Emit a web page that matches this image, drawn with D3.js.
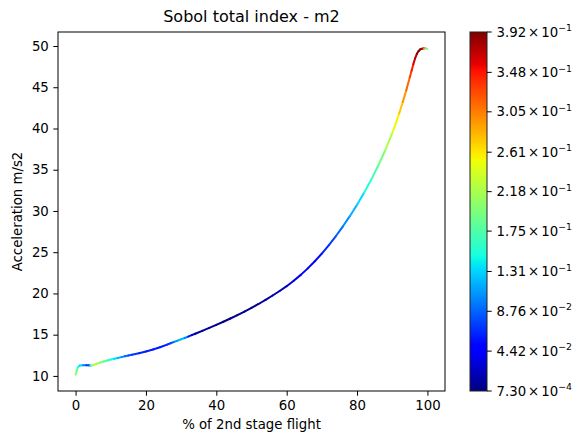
<!DOCTYPE html>
<html>
<head>
<meta charset="utf-8">
<script src="https://cdn.jsdelivr.net/npm/d3@7"></script>
<style>
	body { margin: 0; background: #fff; }
	svg text { font-family: "DejaVu Sans", sans-serif; fill: #000; }
</style>
</head>
<body>
<div id="chart"></div>
<script>
	'use strict';

	// % of 2nd stage flight
	var flightPct = [0, 0.3, 0.65, 1.2, 2.1, 3.0, 3.6, 4.2, 4.6, 5.2,
		6, 7, 8, 9, 10, 11, 12, 13, 14, 15, 16,
		18, 20, 22, 24, 26,
		27, 28, 29, 30, 31, 32, 33, 34,
		36, 38, 40, 42, 44, 46, 48, 50, 52, 54, 56, 58, 60, 62, 64, 66, 68, 70, 72, 74, 76, 78, 80, 82, 84, 86, 88, 90,
		91, 92, 93, 94, 95,
		95.5, 96, 96.5, 97, 97.5, 98, 98.5, 99, 99.5, 100];

	// acceleration, m/s2
	var accel = [10.15, 10.6, 11.05, 11.25, 11.3, 11.3, 11.28, 11.25, 11.27, 11.35,
		11.47, 11.62, 11.75, 11.87, 11.98, 12.08, 12.18, 12.28, 12.38, 12.47, 12.56,
		12.76, 12.97, 13.2, 13.48, 13.8,
		13.96, 14.12, 14.28, 14.44, 14.6, 14.77, 14.94, 15.11,
		15.46, 15.82, 16.19, 16.57, 16.96, 17.37, 17.8, 18.25, 18.72, 19.22, 19.75, 20.3, 20.88, 21.53, 22.25, 23.04,
		23.9, 24.84, 25.86, 26.96, 28.14, 29.4, 30.75, 32.2, 33.77, 35.48, 37.36, 39.44,
		40.6, 41.85, 43.2, 44.65, 46.2,
		47.0, 47.8, 48.5, 49.05, 49.4, 49.6, 49.68, 49.72, 49.7, 49.66];

	// Sobol total index of m2 along the flight
	var sobolIdx = [0.21, 0.2, 0.17, 0.14, 0.12, 0.08, 0.06, 0.1, 0.2, 0.23,
		0.22, 0.21, 0.19, 0.17, 0.155, 0.14, 0.125, 0.11, 0.095, 0.085, 0.075,
		0.065, 0.06, 0.06, 0.058, 0.06,
		0.07, 0.09, 0.11, 0.125, 0.12, 0.08, 0.035, 0.015,
		0.009, 0.006, 0.005, 0.004, 0.004, 0.005, 0.005, 0.006, 0.008, 0.01, 0.013, 0.018, 0.025, 0.032, 0.038, 0.044,
		0.05, 0.058, 0.068, 0.08, 0.095, 0.11, 0.125, 0.14, 0.16, 0.18, 0.205, 0.235,
		0.25, 0.265, 0.285, 0.305, 0.325,
		0.34, 0.355, 0.37, 0.38, 0.39, 0.392, 0.38, 0.36, 0.25, 0.13];

	var xTicks = [0, 20, 40, 60, 80, 100],
		yTicks = [10, 15, 20, 25, 30, 35, 40, 45, 50];

	var cbMin = 7.30e-4,
		cbMax = 3.92e-1;
	var cbTickValues = [7.30e-4, 4.42e-2, 8.76e-2, 1.31e-1, 1.75e-1, 2.18e-1, 2.61e-1, 3.05e-1, 3.48e-1, 3.92e-1];
	var cbTickMant = ['7.30', '4.42', '8.76', '1.31', '1.75', '2.18', '2.61', '3.05', '3.48', '3.92'];
	var cbTickExp = ['\u22124', '\u22122', '\u22122', '\u22121', '\u22121', '\u22121', '\u22121', '\u22121', '\u22121', '\u22121'];

	var W = 578, H = 436,
		plot = { left: 58, right: 445, top: 32, bottom: 391 },
		cb = { left: 470, right: 487 },
		fs = 13.3;

	// jet colormap (matplotlib segment data)
	var jetR = d3.scaleLinear().domain([0, 0.35, 0.66, 0.89, 1]).range([0, 0, 1, 1, 0.5]).clamp(true),
		jetG = d3.scaleLinear().domain([0, 0.125, 0.375, 0.64, 0.91, 1]).range([0, 0, 1, 1, 0, 0]).clamp(true),
		jetB = d3.scaleLinear().domain([0, 0.11, 0.34, 0.65, 1]).range([0.5, 1, 1, 0, 0]).clamp(true);
	function jet(t) {
		return d3.rgb(jetR(t) * 255, jetG(t) * 255, jetB(t) * 255).toString();
	}
	var norm = d3.scaleLinear().domain([cbMin, cbMax]).range([0, 1]).clamp(true);

	var svg = d3.select('#chart').append('svg')
		.attr('width', W)
		.attr('height', H);

	var yExt = d3.extent(accel), yPad = (yExt[1] - yExt[0]) * 0.05;
	var x = d3.scaleLinear().domain([-5, 105]).range([plot.left, plot.right]);
	var y = d3.scaleLinear().domain([yExt[0] - yPad, yExt[1] + yPad]).range([plot.bottom, plot.top]);

	// coloured line segments
	var segs = d3.range(flightPct.length - 1);
	svg.append('g')
		.selectAll('line')
		.data(segs)
		.enter().append('line')
		.attr('x1', function (i) { return x(flightPct[i]); })
		.attr('y1', function (i) { return y(accel[i]); })
		.attr('x2', function (i) { return x(flightPct[i + 1]); })
		.attr('y2', function (i) { return y(accel[i + 1]); })
		.attr('stroke', function (i) { return jet(norm((sobolIdx[i] + sobolIdx[i + 1]) / 2)); })
		.attr('stroke-width', 2)
		.attr('stroke-linecap', 'round');

	// axes
	var xAxis = svg.append('g')
		.attr('transform', 'translate(0,' + plot.bottom + ')')
		.call(d3.axisBottom(x).tickValues(xTicks).tickSize(4.7).tickPadding(4.5));
	var yAxis = svg.append('g')
		.attr('transform', 'translate(' + plot.left + ',0)')
		.call(d3.axisLeft(y).tickValues(yTicks).tickSize(4.7).tickPadding(4.5));
	[xAxis, yAxis].forEach(function (ax) {
		ax.select('.domain').remove();
		ax.selectAll('text').attr('font-size', fs).attr('font-family', '"DejaVu Sans"');
		ax.selectAll('line').attr('stroke', '#000').attr('stroke-width', 1);
	});

	svg.append('rect')
		.attr('x', plot.left)
		.attr('y', plot.top)
		.attr('width', plot.right - plot.left)
		.attr('height', plot.bottom - plot.top)
		.attr('fill', 'none')
		.attr('stroke', '#000')
		.attr('stroke-width', 1);

	svg.append('text')
		.attr('x', (plot.left + plot.right) / 2)
		.attr('y', 22)
		.attr('text-anchor', 'middle')
		.attr('font-size', 16)
		.text('Sobol total index - m2');

	svg.append('text')
		.attr('x', (plot.left + plot.right) / 2)
		.attr('y', 429)
		.attr('text-anchor', 'middle')
		.attr('font-size', fs)
		.text('% of 2nd stage flight');

	svg.append('text')
		.attr('transform', 'translate(22,' + (plot.top + plot.bottom) / 2 + ') rotate(-90)')
		.attr('text-anchor', 'middle')
		.attr('font-size', fs)
		.text('Acceleration m/s2');

	// colorbar
	var grad = svg.append('defs').append('linearGradient')
		.attr('id', 'jetgrad')
		.attr('x1', 0).attr('y1', 1).attr('x2', 0).attr('y2', 0);
	grad.selectAll('stop')
		.data(d3.range(0, 1.0001, 0.01))
		.enter().append('stop')
		.attr('offset', function (t) { return t; })
		.attr('stop-color', jet);

	var cbY = d3.scaleLinear().domain([cbMin, cbMax]).range([plot.bottom, plot.top]);
	svg.append('rect')
		.attr('x', cb.left)
		.attr('y', plot.top)
		.attr('width', cb.right - cb.left)
		.attr('height', plot.bottom - plot.top)
		.attr('fill', 'url(#jetgrad)')
		.attr('stroke', '#222')
		.attr('stroke-width', 1);

	var cbTicks = svg.append('g').selectAll('g')
		.data(cbTickValues)
		.enter().append('g')
		.attr('transform', function (d) { return 'translate(' + cb.right + ',' + cbY(d) + ')'; });
	cbTicks.append('line')
		.attr('x2', 4.7)
		.attr('stroke', '#000');
	var cbText = cbTicks.append('text')
		.attr('x', 9.5)
		.attr('dy', '0.35em')
		.attr('font-size', fs);
	cbText.append('tspan').text(function (d, i) { return cbTickMant[i]; });
	cbText.append('tspan').attr('dx', 2).text('\u00d7');
	cbText.append('tspan').attr('dx', 2).text('10');
	cbText.append('tspan')
		.attr('dy', -5.5)
		.attr('font-size', fs * 0.7)
		.text(function (d, i) { return cbTickExp[i]; });
</script>
</body>
</html>
